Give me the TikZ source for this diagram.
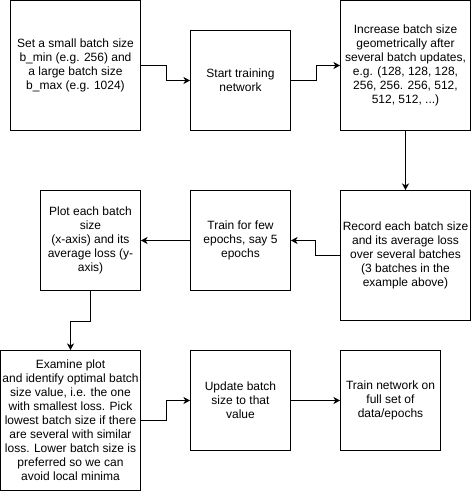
\documentclass[tikz,border=0pt]{standalone}
\usepackage{fontspec}
\setmainfont{Liberation Sans}
\usetikzlibrary{arrows.meta}
\begin{document}
\begin{tikzpicture}[x=1pt,y=-1pt,
  box/.style={draw=black,line width=1pt,inner sep=0pt,align=center,
    font=\fontsize{12}{14}\selectfont},
  conn/.style={draw=black,line width=1pt,-{Stealth[length=6.5pt,width=7pt,inset=1.8pt]}}]
\useasboundingbox (0,0) rectangle (471,491);
\node[box,minimum width=130pt,minimum height=130pt] (b1) at (75.5,65.5)
  {Set a small batch size\\b\_min (e.g. 256) and\\a large batch size\\b\_max (e.g. 1024)};
\node[box,minimum width=100pt,minimum height=100pt] (b2) at (240.5,80.5)
  {Start training\\network};
\node[box,minimum width=130pt,minimum height=130pt] (b3) at (405.5,65.5)
  {Increase batch size\\geometrically after\\several batch updates,\\e.g. (128, 128, 128,\\256, 256. 256, 512,\\512, 512, ...)};
\node[box,minimum width=130pt,minimum height=130pt] (b6) at (405.5,255.5)
  {Record each batch size\\and its average loss\\over several batches\\ (3 batches in the\\example above)};
\node[box,minimum width=100pt,minimum height=100pt] (b5) at (240.5,240.5)
  {Train for few\\epochs, say 5\\epochs};
\node[box,minimum width=100pt,minimum height=100pt] (b4) at (90.5,240.5)
  {Plot each batch\\size\\(x-axis) and its\\average loss (y-\\axis)};
\node[box,minimum width=140pt,minimum height=140pt] (b7) at (70.5,420.5)
  {Examine plot\\and identify optimal batch\\size value, i.e. the one\\with smallest loss. Pick\\lowest batch size if there\\are several with similar\\loss. Lower batch size is\\preferred so we can\\avoid local minima};
\node[box,minimum width=100pt,minimum height=100pt] (b8) at (240.5,400.5)
  {Update batch\\size to that\\value};
\node[box,minimum width=100pt,minimum height=100pt] (b9) at (390.5,400.5)
  {Train network on\\full set of\\data/epochs};
\draw[conn] (b1.east) -- ++(25,0) |- (b2.west);
\draw[conn] (b2.east) -- ++(25,0) |- (b3.west);
\draw[conn] (b3.south) -- (b6.north);
\draw[conn] (b6.west) -- ++(-25,0) |- (b5.east);
\draw[conn] (b5.west) -- (b4.east);
\draw[conn] (b4.south) -- ++(0,30) -| (b7.north);
\draw[conn] (b7.east) -- ++(25,0) |- (b8.west);
\draw[conn] (b8.east) -- (b9.west);
\end{tikzpicture}
\end{document}
